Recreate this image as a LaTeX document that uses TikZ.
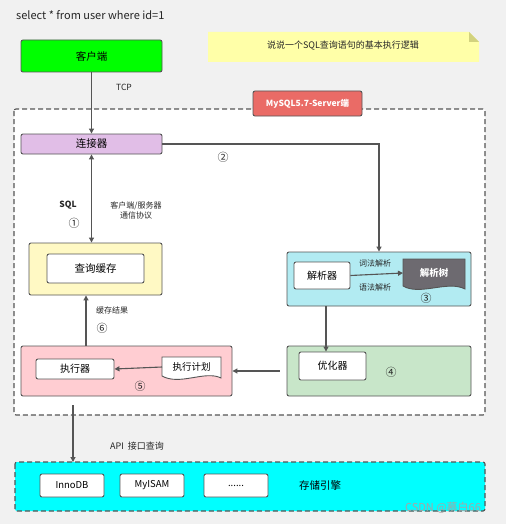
\documentclass[tikz,border=0pt]{standalone}
\usepackage{fontspec}
\setmainfont{Noto Sans CJK SC}
\usetikzlibrary{arrows.meta,calc}
\definecolor{bg}{HTML}{F1F1F1}
\definecolor{edge}{HTML}{555555}
\definecolor{cgreen}{HTML}{00FF00}
\definecolor{cconn}{HTML}{E1BEE7}
\definecolor{cmysql}{HTML}{EA6B66}
\definecolor{cnote}{HTML}{FFFFA8}
\definecolor{cfold}{HTML}{D2D27E}
\definecolor{ccache}{HTML}{FFF9C4}
\definecolor{cexec}{HTML}{FFCDD2}
\definecolor{cparse}{HTML}{B2EBF2}
\definecolor{copt}{HTML}{C8E6C9}
\definecolor{ctree}{HTML}{6D6A70}
\definecolor{ccyan}{HTML}{00FFFF}
\tikzset{
  box/.style={draw=edge, line width=0.9pt, rounded corners=2pt, inner sep=0pt, font=\fontsize{10}{12}\selectfont},
  bigbox/.style={box, font=\fontsize{10.5}{12}\selectfont},
  inbox/.style={box, fill=white},
  arr/.style={draw=edge, line width=1.1pt, -{Triangle[length=5pt,width=5pt]}},
  darr/.style={draw=edge, line width=1.1pt, {Triangle[length=5pt,width=5pt]}-{Triangle[length=5pt,width=5pt]}},
  lbl/.style={font=\fontsize{8}{10}\selectfont, text=black!85, inner sep=0pt, align=center},
  num/.style={font=\fontsize{11}{12}\selectfont, text=black!85, inner sep=0pt}
}
\begin{document}
\begin{tikzpicture}[x=1pt,y=-1pt]
\fill[bg] (0,0) rectangle (506,524);
\useasboundingbox (0,0) rectangle (506,524);

% title
\node[anchor=west, inner sep=0pt, font=\fontsize{11}{12}\selectfont, text=black!85] (title) at (16,15) {select * from user where id=1};

% note
\fill[cnote] (208,32) -- (469,32) -- (479,42) -- (479,62) -- (208,62) -- cycle;
\fill[cfold] (469,32) -- (479,42) -- (469,42) -- cycle;
\node[lbl, font=\fontsize{9}{10}\selectfont] (note) at (343,46) {说说一个SQL查询语句的基本执行逻辑};

% server dashed frame
\draw[edge, line width=1.1pt, dash pattern=on 5pt off 3pt, rounded corners=2pt, fill=white] (14,109) rectangle (485,415);
\node[box, fill=cmysql, minimum width=109pt, minimum height=25pt, font=\bfseries\fontsize{8.5}{10}\selectfont, text=white] (mysql) at (307.5,103.5) {MySQL5.7-Server端};

% client
\node[bigbox, fill=cgreen, minimum width=141pt, minimum height=32pt] (client) at (91.5,56) {客户端};

% connector
\node[bigbox, fill=cconn, minimum width=141pt, minimum height=20pt] (conn) at (91.5,144) {连接器};

% cache
\node[box, fill=ccache, minimum width=133pt, minimum height=52pt] (cacheout) at (95.5,269) {};
\node[inbox, bigbox, minimum width=97pt, minimum height=29pt] (cachein) at (95.5,268.5) {查询缓存};

% executor
\node[box, fill=cexec, minimum width=211pt, minimum height=50pt] (execout) at (126.5,371) {};
\node[inbox, minimum width=78pt, minimum height=20pt] (execin) at (75,369) {执行器};
\draw[edge, line width=0.9pt, fill=white] (162,357) -- (221,357) -- (221,378) .. controls (205,370) and (180,386) .. (162,376) -- cycle;
\node[inner sep=0pt, font=\fontsize{9.5}{10}\selectfont] (plan) at (191.5,367) {执行计划};

% parser
\node[box, fill=cparse, minimum width=184pt, minimum height=54pt] (parseout) at (379,279) {};
\node[inbox, minimum width=56pt, minimum height=27pt] (parsein) at (322,275.5) {解析器};
\draw[edge, line width=0.9pt, fill=ctree] (403,259) -- (465,259) -- (465,289) .. controls (448,280) and (420,296) .. (403,286) -- cycle;
\node[inner sep=0pt, text=white, font=\bfseries\fontsize{9.5}{10}\selectfont] (tree) at (434,273) {解析树};

% optimizer
\node[box, fill=copt, minimum width=184pt, minimum height=50pt] (optout) at (379,371) {};
\node[inbox, minimum width=67pt, minimum height=28pt] (optin) at (332.5,366) {优化器};

% storage
\draw[edge, line width=1.1pt, dash pattern=on 5pt off 3pt, rounded corners=2pt, fill=ccyan] (15,462) rectangle (485,511);
\node[inbox, minimum width=64pt, minimum height=23pt, font=\fontsize{9.5}{10}\selectfont] (innodb) at (72,485.5) {InnoDB};
\node[inbox, minimum width=64pt, minimum height=23pt, font=\fontsize{9.5}{10}\selectfont] (myisam) at (152,485.5) {MyISAM};
\node[inbox, minimum width=64pt, minimum height=23pt, font=\fontsize{9.5}{10}\selectfont] (dots) at (236,485.5) {......};
\node[inner sep=0pt, font=\fontsize{10.5}{12}\selectfont] (storage) at (320,485) {存储引擎};
\coordinate (stortop) at (73,462);

% helper coordinates
\coordinate (c6) at (86,0);
\coordinate (c3) at (326,0);
\coordinate (c7) at (73,405);

% connectors
\draw[arr] (client.south) -- (conn.north);
\draw[arr] (conn.east) -| (parseout.north);
\draw[darr] (conn.south) -- (conn.south |- cacheout.north);
\draw[arr] (execout.north -| c6) -- (cacheout.south -| c6);
\draw[arr] (parseout.south -| c3) -- (optin.north -| c3);
\draw[arr] (parsein.east) -- (tree.west -| 403,0);
\draw[arr] (plan.west -| 162,0) -- (execin.east);
\draw[arr, shorten <=7pt] (optout.west) -- (execout.east);
\draw[arr] (c7) -- (stortop);

% labels
\node[lbl, font=\fontsize{8.5}{10}\selectfont] (tcp) at (124,87) {TCP};
\node[num] (n2) at (223,157) {②};
\node[lbl, font=\bfseries\fontsize{8.5}{10}\selectfont] (sql) at (68,205) {SQL};
\node[num] (n1) at (74,223) {①};
\node[lbl] (proto) at (136,210) {客户端/服务器\\通信协议};
\node[lbl] (cres) at (112,310) {缓存结果};
\node[num] (n6) at (102,328) {⑥};
\node[lbl] (lex) at (375,263) {词法解析};
\node[lbl] (syn) at (375,287) {语法解析};
\node[num] (n3) at (426,298) {③};
\node[num] (n4) at (391,372) {④};
\node[num] (n5) at (140,386) {⑤};
\node[lbl, font=\fontsize{9}{10}\selectfont] (api) at (137,446) {API\ \ 接口查询};
\node[inner sep=0pt, text=black!35, font=\fontsize{11}{12}\selectfont] (wm) at (443,508) {CSDN @慕白66};
\end{tikzpicture}
\end{document}
